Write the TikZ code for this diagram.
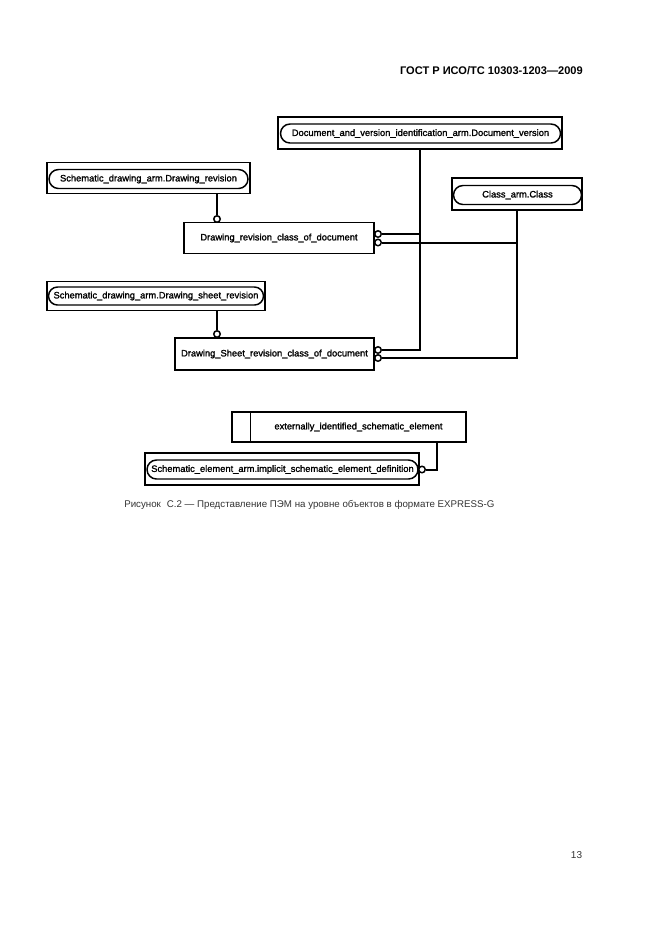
\documentclass[tikz,border=0pt]{standalone}
\usepackage{fontspec}
\setmainfont{Liberation Sans}
\newfontfamily\labfont[FakeBold=1.5]{Liberation Sans}
\usetikzlibrary{shapes.misc,calc}
\newcommand\pu[1]{#1*0.75pt}
\begin{document}
\begin{tikzpicture}[x=0.75pt,y=-0.75pt,
  box/.style={draw, line width=1.1pt, inner sep=0pt, minimum height=\pu{32},
    font=\labfont\fontsize{7}{8}\selectfont},
  pill/.style={draw, rounded rectangle, line width=1.1pt, inner sep=0pt,
    minimum height=\pu{19}, font=\labfont\fontsize{7}{8}\selectfont},
  conn/.style={line width=1.5pt},
  circ/.style={circle, draw, line width=1.1pt, minimum size=\pu{6.5}, inner sep=0pt, fill=white}]
\useasboundingbox (0,0) rectangle (661,936);

% header
\node[anchor=east, inner sep=0pt, font=\bfseries\fontsize{8.3}{10}\selectfont] (hdr) at (583,71) {ГОСТ Р ИСО/ТС 10303-1203—2009};

% boxes with pills
\node[box, minimum width=\pu{284}] (b1) at (420,133) {};
\node[pill, minimum width=\pu{280}] (p1) at (420.5,133.5) {Document\_and\_version\_identification\_arm.Document\_version};

\node[box, minimum width=\pu{203}, minimum height=\pu{31}] (b2) at (148.5,178) {};
\node[pill, minimum width=\pu{199}] (p2) at (148.5,179) {Schematic\_drawing\_arm.Drawing\_revision};

\node[box, minimum width=\pu{130}] (b3) at (517,194) {};
\node[pill, minimum width=\pu{128}] (p3) at (517.5,195) {Class\_arm.Class};

\node[box, minimum width=\pu{190}, minimum height=\pu{31}] (b4) at (279,238) {Drawing\_revision\_class\_of\_document};

\node[box, minimum width=\pu{218}, minimum height=\pu{29}] (b5) at (156,296) {};
\node[pill, minimum width=\pu{215}, minimum height=\pu{18}] (p5) at (156,296) {Schematic\_drawing\_arm.Drawing\_sheet\_revision};

\node[box, minimum width=\pu{199}] (b6) at (274.5,354) {Drawing\_Sheet\_revision\_class\_of\_document};

\node[box, minimum width=\pu{234}, minimum height=\pu{30}] (b7) at (349,427) {};
\draw[line width=1.1pt] ([xshift=\pu{19}]b7.north west) -- ([xshift=\pu{19}]b7.south west);
\node[inner sep=0pt, font=\labfont\fontsize{7}{8}\selectfont] (t7) at (358.5,427) {externally\_identified\_schematic\_element};

\node[box, minimum width=\pu{274}] (b8) at (282,469) {};
\node[pill, minimum width=\pu{271}] (p8) at (282.5,469.5) {Schematic\_element\_arm.implicit\_schematic\_element\_definition};

% circles
\node[circ] (c24) at (217,219) {};
\node[circ] (c56) at (217,334) {};
\node[circ] (c4a) at (378,234) {};
\node[circ] (c4b) at (378,242.5) {};
\node[circ] (c6a) at (378,350) {};
\node[circ] (c6b) at (378,358) {};
\node[circ] (c8) at (422,469.5) {};

% connectors
\draw[conn] (c24) -- (c24 |- b2.south);
\draw[conn] (c56) -- (c56 |- b5.south);
\draw[conn] (c4a.east) -| (b1.south);
\draw[conn] (c6a.east) -| (b1.south);
\draw[conn] (c4b.east) -| (b3.south);
\draw[conn] (c6b.east) -| (b3.south);
\draw[conn] (c8.east) -| ([xshift=\pu{-30}]b7.south east);

% caption
\node[anchor=west, inner sep=0pt, text=black!80, font=\fontsize{7.3}{9}\selectfont] (cap) at (124,505) {Рисунок\hspace{0.6em}С.2 — Представление ПЭМ на уровне объектов в формате EXPRESS-G};

% page number
\node[inner sep=0pt, text=black!80, font=\fontsize{7.5}{9}\selectfont] (pg) at (576.5,855) {13};
\end{tikzpicture}
\end{document}
